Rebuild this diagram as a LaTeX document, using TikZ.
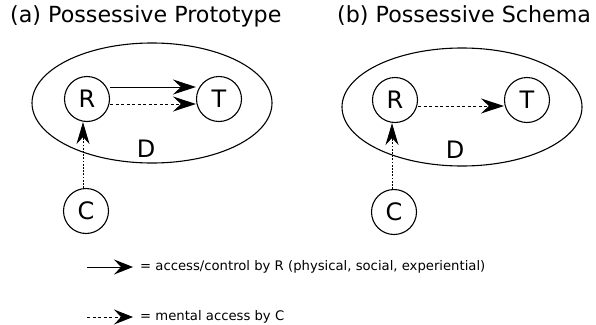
\documentclass[tikz,border=0pt]{standalone}
\usepackage{fontspec}
\setmainfont{DejaVu Sans}
\usetikzlibrary{arrows.meta,shapes.geometric}
\begin{document}
\begin{tikzpicture}[x=1pt,y=-1pt,
  ent/.style={draw,circle,line width=1.1pt,minimum size=45pt,inner sep=0pt,font=\fontsize{24}{24}\selectfont},
  dom/.style={draw,ellipse,line width=1.1pt,inner sep=0pt},
  title/.style={font=\fontsize{22.2}{22.2}\selectfont,anchor=base west,inner sep=0pt},
  lbl/.style={font=\fontsize{24}{24}\selectfont,inner sep=0pt},
  bigtip/.style={-{Stealth[length=23pt,width=15pt,inset=8pt]}},
  vtip/.style={-{Stealth[length=22pt,width=13pt,inset=7pt]}},
  smalltip/.style={-{Stealth[length=19pt,width=15pt,inset=7pt]}},
  solidarr/.style={line width=1pt},
  dasharr/.style={line width=1pt,dash pattern=on 3pt off 2.5pt},
  dotarr/.style={line width=1pt,dash pattern=on 1.8pt off 1.4pt},
  legtext/.style={font=\fontsize{13.2}{13.2}\selectfont,anchor=west,inner sep=0pt}]
\useasboundingbox (0,0) rectangle (596,324);
% (a)
\node[title] (ta) at (10,22) {(a) Possessive Prototype};
\node[dom,minimum width=240pt,minimum height=120pt] (Ea) at (152,103) {};
\node[ent] (Ra) at (87,99) {R};
\node[ent] (Ta) at (219,99) {T};
\node[ent] (Ca) at (86,211) {C};
\node[lbl] (Da) at (146,149) {D};
\draw[solidarr,bigtip] (Ra.east |- 0,87) -- (Ta.west |- 0,87);
\draw[dasharr,bigtip] (Ra.east |- 0,104) -- (Ta.west |- 0,104);
\draw[dotarr,vtip] (Ca.north -| 83,0) -- (Ra.south -| 83,0);
% (b)
\node[title] (tb) at (337,22) {(b) Possessive Schema};
\node[dom,minimum width=240pt,minimum height=118pt] (Eb) at (462,107) {};
\node[ent] (Rb) at (395,100) {R};
\node[ent] (Tb) at (527,100) {T};
\node[ent] (Cb) at (394,212) {C};
\node[lbl] (Db) at (455,150) {D};
\draw[dasharr,bigtip] (Rb.east |- 0,106) -- (Tb.west |- 0,106);
\draw[dotarr,vtip] (Cb.north -| 392,0) -- (Rb.south -| 392,0);
% legend
\coordinate (l1a) at (87,267);
\coordinate (l1b) at (133,267);
\coordinate (l2a) at (87,317);
\coordinate (l2b) at (133,317);
\draw[solidarr,smalltip] (l1a) -- (l1b);
\draw[dasharr,smalltip] (l2a) -- (l2b);
\node[legtext] (t1) at (140,267) {= access/control by R (physical, social, experiential)};
\node[legtext] (t2) at (140,317) {= mental access by C};
\end{tikzpicture}
\end{document}
